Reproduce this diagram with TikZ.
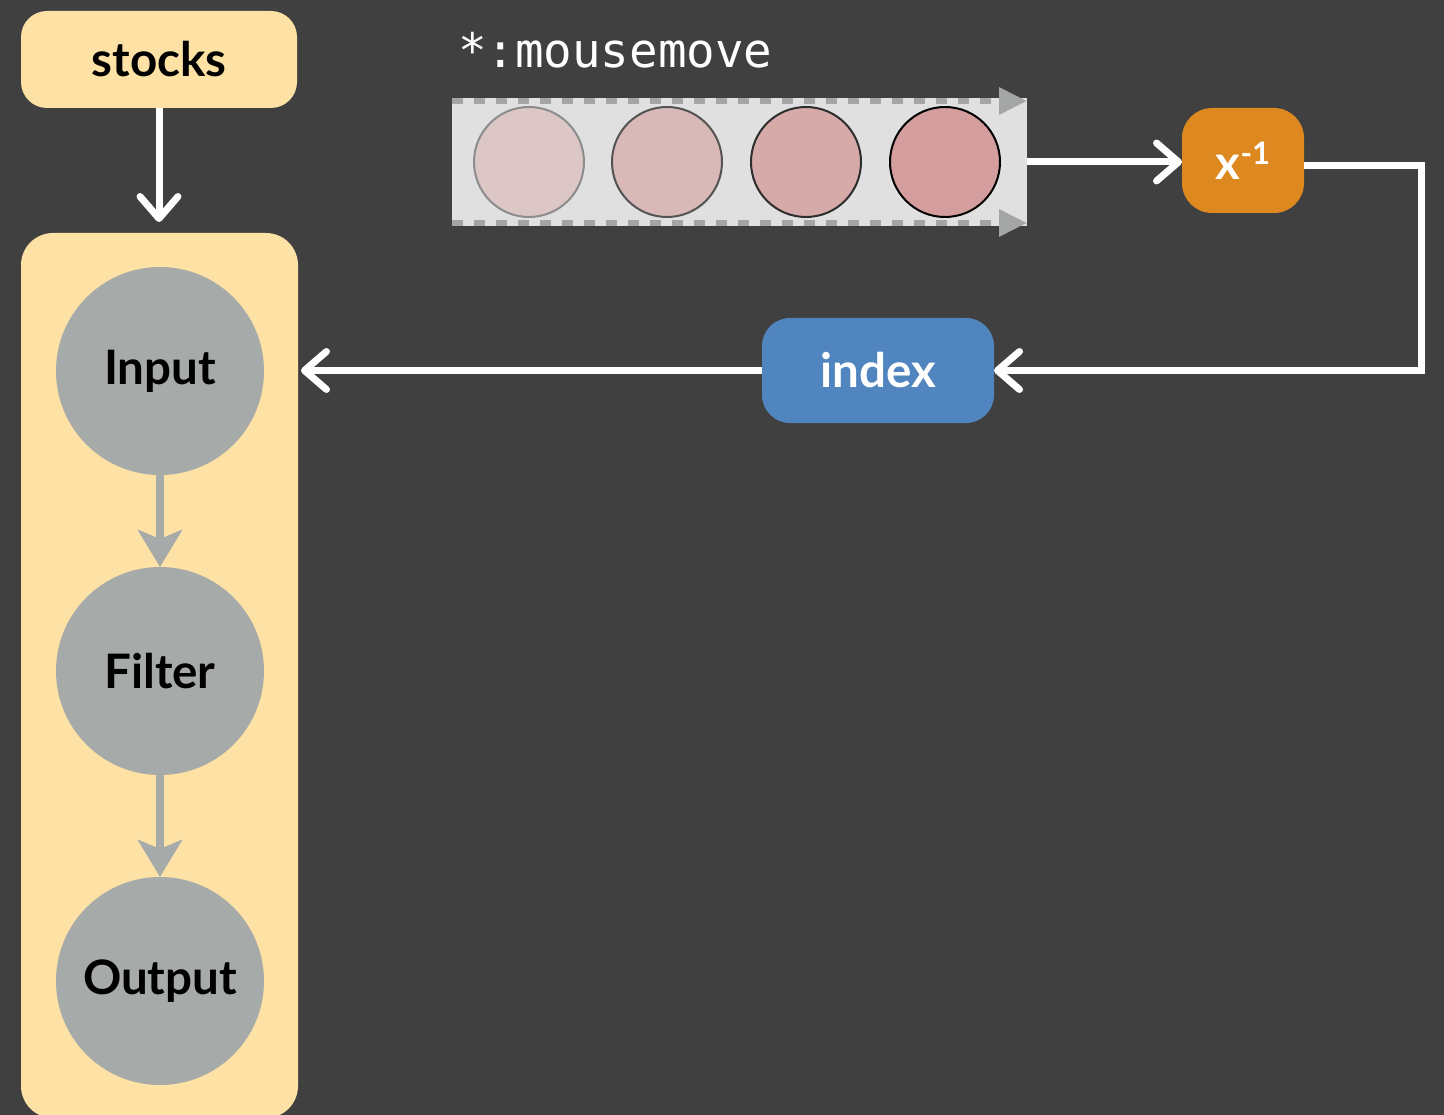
\documentclass[tikz,border=0pt]{standalone}
\usepackage{fontspec}
\setmainfont{Lato}
\setmonofont{DejaVu Sans Mono}
\usetikzlibrary{arrows.meta}

\definecolor{bgdark}{HTML}{404040}
\definecolor{panelyellow}{HTML}{FEE1A4}
\definecolor{stagegray}{HTML}{A6AAA8}
\definecolor{oporange}{HTML}{DE8820}
\definecolor{opblue}{HTML}{5185BF}
\definecolor{streamfill}{HTML}{E0E0E0}
\definecolor{streamdash}{HTML}{A3A6A5}
\definecolor{evA}{HTML}{DCC6C6}
\definecolor{evB}{HTML}{D9B8B8}
\definecolor{evC}{HTML}{D6AAA9}
\definecolor{evD}{HTML}{D39E9D}

\begin{document}
\begin{tikzpicture}[x=1pt,y=-1pt,
  every node/.style={inner sep=0pt, outer sep=0pt},
  labelfont/.style={font=\fontsize{47.5}{52}\selectfont\bfseries},
  panel/.style={fill=panelyellow, rounded corners=26pt},
  stage/.style={circle, fill=stagegray, minimum size=208pt, labelfont, text=black},
  opbox/.style={rounded corners=28pt, labelfont, text=white},
  event/.style={circle, minimum size=110pt, line width=2pt},
  wire/.style={draw=white, line width=7pt},
  openhead/.style={-{Straight Barb[length=22pt,width=38pt,line cap=round,line join=round]}},
  flow/.style={draw=stagegray, line width=8pt, -{Stealth[length=37pt,width=44pt,inset=9pt]}},
  timeline/.style={draw=streamdash, line width=6pt, dash pattern=on 11pt off 11pt,
    -{Triangle[length=28pt,width=26pt,fill=streamdash,sep=0pt]}}
]
\useasboundingbox (0,0) rectangle (1444,1115);
\fill[bgdark] (0,0) rectangle (1444,1115);
\clip (0,0) rectangle (1444,1115);

% source and pipeline container
\node[panel, minimum width=276pt, minimum height=97pt, labelfont] (stocks) at (159,59.5) {stocks};
\node[panel, rounded corners=32pt, minimum width=277pt, minimum height=885pt] (pipe) at (159.5,675.5) {};

% pipeline stages
\node[stage] (input) at (160,371) {Input};
\node[stage] (filter) at (160,671) {Filter};
\node[stage] (output) at (160,981) {Output};
\draw[flow] (input) -- (filter);
\draw[flow] (filter) -- (output);

% event stream
\node[anchor=base west, font=\ttfamily\fontsize{47.5}{52}\selectfont, text=white] (evname) at (458,68) {*:mousemove};
\node[fill=streamfill, minimum width=575pt, minimum height=128pt] (stream) at (739.5,162) {};
\draw[timeline] ([yshift=-3pt]stream.north west) -- ([yshift=-3pt]stream.north east);
\draw[timeline] ([yshift=3pt]stream.south west) -- ([yshift=3pt]stream.south east);
\node[event, fill=evA, draw=black!45] (e1) at (529,162) {};
\node[event, fill=evB, draw=black!67] (e2) at (667,162) {};
\node[event, fill=evC, draw=black!82] (e3) at (806,162) {};
\node[event, fill=evD, draw=black] (e4) at (945,162) {};

% operators
\node[opbox, fill=oporange, rounded corners=30pt, minimum width=122pt, minimum height=105pt] (xinv) at (1243,160.5)
  {x\raisebox{15pt}{\fontsize{31}{34}\selectfont -1}};
\node[opbox, fill=opblue, minimum width=232pt, minimum height=105pt] (index) at (878,370.5) {index};

% connectors
\draw[wire, openhead, shorten >=11pt] (stocks.south) -- (stocks.south |- pipe.north);
\draw[wire, openhead] (stream.east) -- (stream.east -| xinv.west);
\coordinate (bend) at (1421,166);
\draw[wire, openhead] ([yshift=-5.5pt]xinv.east) -- (bend) |- (index.east);
\draw[wire, openhead, shorten >=3pt] (index.west) -- (index.west -| pipe.east);
\end{tikzpicture}
\end{document}
